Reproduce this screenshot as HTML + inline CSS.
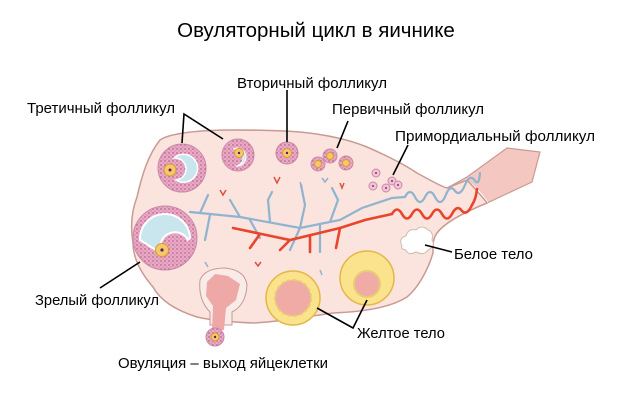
<!DOCTYPE html>
<html><head><meta charset="utf-8"><style>
body{margin:0;background:#fff}
svg{display:block}
text{font-family:"Liberation Sans","DejaVu Sans",sans-serif;fill:#000}
</style></head><body>
<svg width="632" height="408" viewBox="0 0 632 408" xmlns="http://www.w3.org/2000/svg">
<defs>
<pattern id="dots" width="4" height="4" patternUnits="userSpaceOnUse">
<rect width="4" height="4" fill="#e9a9c4"/><circle cx="1" cy="1" r="0.7" fill="#a04a7a"/><circle cx="3" cy="3" r="0.5" fill="#c06090"/>
</pattern>
</defs>
<text x="316" y="37" font-size="20.5" text-anchor="middle">Овуляторный цикл в яичнике</text>

<!-- tube -->
<path d="M447,188 L467,177 L507,148 L540,152 L532,182 L487,203 L460,210 Z" fill="#f4c7c1" stroke="#c99a94" stroke-width="1.2"/>
<path d="M465,180 Q478,190 487,203" fill="none" stroke="#fff" stroke-width="3"/>
<!-- ovary -->
<path d="M160,140 C170,133 200,130 233,130 C260,130 285,131 300,132 C330,135 350,140 367,147 C390,157 405,165 417,173 C430,180 440,186 447,188 L467,180 C478,192 485,200 487,203 C465,212 445,222 437,233 C432,240 433,248 433,253 C428,270 418,288 407,297 C390,308 360,312 333,313 C300,318 275,322 253,323 C230,322 210,320 197,317 C175,310 160,300 153,287 C140,272 133,258 133,243 C130,225 132,210 137,197 C142,175 148,155 160,140 Z" fill="#fbe3de" stroke="#c99a94" stroke-width="1.5"/>

<!-- vessels blue -->
<g fill="none" stroke="#8fb4cf" stroke-width="2.2" stroke-linecap="round">
<path d="M190,212 L240,217 L300,228 L340,220 L362,208 L392,198 L405,197"/>
<path d="M405,197 q5,-10 10,0 q5,10 10,0 q5,-10 10,0 q5,10 10,0 q5,-14 10,-6 q5,6 10,-6 q5,-12 10,-4 q4,5 5,-8"/>
<path d="M240,217 L230,200 M250,220 L260,238 M270,222 L268,200 L272,192 M300,228 L305,205 L301,185 M330,222 L338,200 L332,188 M300,228 L290,250 M320,224 L320,252 M210,215 L205,240 M200,213 L208,195"/>
</g>
<!-- vessels red -->
<g fill="none" stroke="#e8452d" stroke-width="2.6" stroke-linecap="round">
<path d="M233,228 L290,240 L340,228 L365,220 L392,214"/>
<path d="M392,214 q5,-9 10,0 q5,9 10,0 q5,-9 10,0 q5,9 10,0 q5,-9 10,0 q5,9 10,0 q5,-10 10,-3 q5,5 10,-6 q4,-6 5,-16"/>
<path d="M260,234 L250,248 M290,240 L280,250 M310,236 L310,252 M340,228 L336,248"/>
</g>
<g stroke="#d9543f" stroke-width="1.5" fill="none"><path d="M274,177 l3,6 l3,-6 M220,190 l3,5 l3,-5 M340,183 l2,5 l2,-5 M255,262 l3,4 l3,-4"/></g>
<g stroke="#8fb4cf" stroke-width="1.5" fill="none"><path d="M322,178 l3,4 l3,-4 M300,182 l2,5 M205,262 l3,5 M320,270 l2,5"/></g>

<!-- tertiary follicles -->
<circle cx="182" cy="168" r="24" fill="url(#dots)" stroke="#c98aa8"/>
<path d="M174,158 A14,14 0 1 1 176,180 A9,9 0 1 0 174,158 Z" fill="#c9e6ee" stroke="#fff" stroke-width="1.5"/>
<circle cx="170" cy="170" r="6" fill="#f5c96a" stroke="#d89a30"/><circle cx="170" cy="170" r="1.5" fill="#552266"/>
<circle cx="238" cy="155" r="16" fill="url(#dots)" stroke="#c98aa8"/>
<path d="M233,149 A9,9 0 1 1 236,166 A6,6 0 1 0 233,149 Z" fill="#c9e6ee" stroke="#fff"/>
<circle cx="239" cy="153" r="4.5" fill="#f5c96a" stroke="#d89a30"/><circle cx="239" cy="153" r="1.2" fill="#552266"/>
<!-- secondary -->
<circle cx="287" cy="153" r="11" fill="url(#dots)" stroke="#c98aa8"/>
<circle cx="287" cy="153" r="4.5" fill="#f5c96a" stroke="#d89a30"/><circle cx="287" cy="153" r="1.2" fill="#552266"/>
<!-- primary -->
<g fill="url(#dots)" stroke="#c98aa8"><circle cx="318" cy="164" r="7"/><circle cx="330" cy="156" r="7"/><circle cx="346" cy="163" r="7"/></g>
<g fill="#f5c96a" stroke="#d89a30"><circle cx="318" cy="164" r="3.5"/><circle cx="330" cy="156" r="3.5"/><circle cx="346" cy="163" r="3.5"/></g>
<!-- primordial -->
<g fill="#f3c2d6" stroke="#c98aa8"><circle cx="376" cy="173" r="4"/><circle cx="373" cy="186" r="4"/><circle cx="386" cy="188" r="4"/><circle cx="392" cy="181" r="4"/><circle cx="398" cy="185" r="4"/></g>
<g fill="#7a3a6a"><circle cx="376" cy="173" r="1"/><circle cx="373" cy="186" r="1"/><circle cx="386" cy="188" r="1"/><circle cx="392" cy="181" r="1"/><circle cx="398" cy="185" r="1"/></g>
<!-- mature -->
<circle cx="165" cy="238" r="32" fill="url(#dots)" stroke="#c98aa8"/>
<path d="M140,240 A25,25 0 1 1 190,238 L188,240 A14,14 0 0 0 162,254 Z" fill="#c9e6ee" stroke="#fff" stroke-width="2"/>
<circle cx="162" cy="250" r="6.5" fill="#f5c96a" stroke="#d89a30"/><circle cx="162" cy="250" r="1.6" fill="#552266"/>
<!-- ovulation -->
<path d="M200,280 Q205,268 225,268 Q245,270 247,285 Q246,305 232,312 L232,325 L210,325 L210,312 Q198,300 200,280 Z" fill="#f8ebe8" stroke="#c99a94"/>
<path d="M207,282 L215,274 L228,276 L240,284 L236,300 L226,308 L224,330 L212,330 L213,306 L206,296 Z" fill="#eea9a6"/>
<circle cx="215" cy="337" r="9" fill="url(#dots)" stroke="#c98aa8"/>
<circle cx="215" cy="337" r="4" fill="#f5c96a" stroke="#d89a30"/><circle cx="215" cy="337" r="1.2" fill="#552266"/>
<!-- corpus luteum -->
<circle cx="293" cy="298" r="27" fill="#fbe28c" stroke="#e3b84a" stroke-width="1.5"/>
<circle cx="293" cy="298" r="18" fill="#f0aba6" stroke="#e8cc70" stroke-width="2" stroke-dasharray="4 2"/>
<circle cx="367" cy="278" r="27" fill="#fbe28c" stroke="#e3b84a" stroke-width="1.5"/>
<circle cx="367" cy="284" r="13" fill="#f0aba6" stroke="#e8cc70" stroke-width="2"/>
<!-- corpus albicans -->
<path d="M402,246 q-4,-8 4,-10 q2,-8 10,-6 q6,-6 12,0 q6,2 4,10 q4,6 -4,10 q-4,6 -12,2 q-8,4 -10,-2 q-6,-1 -4,-4 Z" fill="#fff" stroke="#c9c0b0"/>

<!-- leaders -->
<g stroke="#000" stroke-width="1.6" fill="none">
<path d="M182,143 L184,114 L223,139"/>
<path d="M287,142 L287,90"/>
<path d="M337,148 L348,121"/>
<path d="M393,175 L408,145"/>
<path d="M425,245 L452,252"/>
<path d="M140,262 L100,288"/>
<path d="M317,308 L353,328 L367,300"/>
</g>
<g font-size="14.5">
<text x="27" y="113" textLength="148" lengthAdjust="spacingAndGlyphs">Третичный фолликул</text>
<text x="237" y="88" textLength="150" lengthAdjust="spacingAndGlyphs">Вторичный фолликул</text>
<text x="332" y="114" textLength="152" lengthAdjust="spacingAndGlyphs">Первичный фолликул</text>
<text x="395" y="141" textLength="200" lengthAdjust="spacingAndGlyphs">Примордиальный фолликул</text>
<text x="454" y="259" textLength="79" lengthAdjust="spacingAndGlyphs">Белое тело</text>
<text x="35" y="305" textLength="124" lengthAdjust="spacingAndGlyphs">Зрелый фолликул</text>
<text x="357" y="338" textLength="88" lengthAdjust="spacingAndGlyphs">Желтое тело</text>
<text x="118" y="368" textLength="210" lengthAdjust="spacingAndGlyphs">Овуляция – выход яйцеклетки</text>
</g>
</svg>
</body></html>
